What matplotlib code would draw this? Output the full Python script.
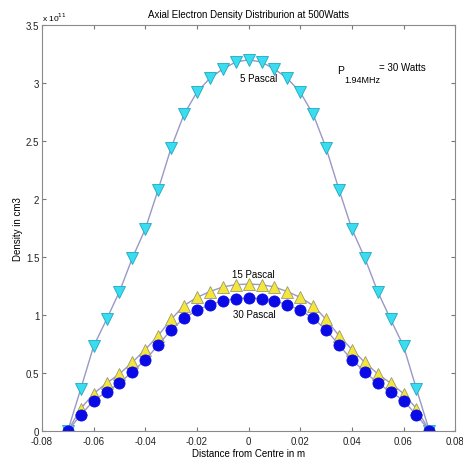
import numpy as np
import matplotlib
matplotlib.use('Agg')
from matplotlib import pyplot as plt
from matplotlib.ticker import FuncFormatter

plt.rcParams['font.family'] = ['Liberation Sans', 'DejaVu Sans']

# positions along the axis (m)
distance = [-0.07, -0.065, -0.06, -0.055, -0.05, -0.045, -0.04, -0.035, -0.03, -0.025,
            -0.02, -0.015, -0.01, -0.005, 0.0, 0.005, 0.01, 0.015, 0.02, 0.025,
            0.03, 0.035, 0.04, 0.045, 0.05, 0.055, 0.06, 0.065, 0.07]

# electron density, in units of 1e11
density_5pa = [0, 0.36, 0.73, 0.96, 1.20, 1.49, 1.74, 2.08, 2.44, 2.73,
               2.92, 3.04, 3.12, 3.18, 3.20, 3.18, 3.12, 3.04, 2.92, 2.73,
               2.44, 2.08, 1.74, 1.49, 1.20, 0.96, 0.73, 0.36, 0]
density_15pa = [0, 0.19, 0.32, 0.41, 0.49, 0.59, 0.70, 0.82, 0.96, 1.08,
                1.15, 1.20, 1.24, 1.26, 1.265, 1.26, 1.24, 1.20, 1.15, 1.08,
                0.96, 0.82, 0.70, 0.59, 0.49, 0.41, 0.32, 0.19, 0]
density_30pa = [0, 0.135, 0.26, 0.336, 0.41, 0.51, 0.61, 0.74, 0.87, 0.97,
                1.04, 1.085, 1.12, 1.14, 1.145, 1.14, 1.12, 1.085, 1.04, 0.97,
                0.87, 0.74, 0.61, 0.51, 0.41, 0.336, 0.26, 0.135, 0]

x_ticks = [-0.08, -0.06, -0.04, -0.02, 0, 0.02, 0.04, 0.06, 0.08]
y_ticks = [0, 0.5, 1, 1.5, 2, 2.5, 3, 3.5]

fig = plt.figure(figsize=(4.64, 4.64), dpi=100)
ax = fig.add_axes([0.0905, 0.0696, 0.8905, 0.8744])

line_col = '#9a98c4'
ax.plot(distance, density_5pa, color=line_col, lw=1, marker='v', ms=8,
        mfc='#3adcf0', mec='#20a8c0', mew=0.6)
ax.plot(distance, density_15pa, color=line_col, lw=1, marker='^', ms=8,
        mfc='#f4e63c', mec='#9a9a70', mew=0.6)
ax.plot(distance, density_30pa, color=line_col, lw=1, marker='o', ms=8,
        mfc='#0a0ae6', mec='#0a0ae6', mew=0.6)

ax.set_xlim(-0.08, 0.08)
ax.set_ylim(0, 3.5)
ax.set_xticks(x_ticks)
ax.set_yticks(y_ticks)
fmt = FuncFormatter(lambda v, p: '%g' % round(v, 4))
ax.xaxis.set_major_formatter(fmt)
ax.yaxis.set_major_formatter(fmt)
ax.tick_params(direction='in', top=True, right=True, labelsize=7, length=3,
               color='#777777', labelcolor='#222222')
ax.tick_params(axis='x', pad=4)
ax.tick_params(axis='y', pad=2)
for s in ax.spines.values():
    s.set_color('#8a8a8a')
    s.set_linewidth(0.8)

ax.set_title('Axial Electron Density Distriburion at 500Watts', fontsize=7, pad=6)
ax.set_xlabel('Distance from Centre in m', fontsize=7, labelpad=1)
ax.set_ylabel('Density in cm3', fontsize=7, labelpad=2)
ax.text(0.0, 1.005, 'x 10$^{11}$', transform=ax.transAxes, fontsize=6,
        ha='left', va='bottom')

ax.text(0.004, 3.04, '5 Pascal', fontsize=7, ha='center', va='center')
ax.text(0.0017, 1.35, '15 Pascal', fontsize=7, ha='center', va='center')
ax.text(0.0023, 1.006, '30 Pascal', fontsize=7, ha='center', va='center')

# P subscript 1.94MHz = 30 Watts, MATLAB style
ax.text(0.0343, 3.11, 'P', fontsize=7.5, ha='left', va='center')
ax.text(0.0372, 3.03, '1.94MHz', fontsize=6.5, ha='left', va='center')
ax.text(0.0505, 3.135, '= 30 Watts', fontsize=7, ha='left', va='center')

fig.savefig('out.png', dpi=100)
